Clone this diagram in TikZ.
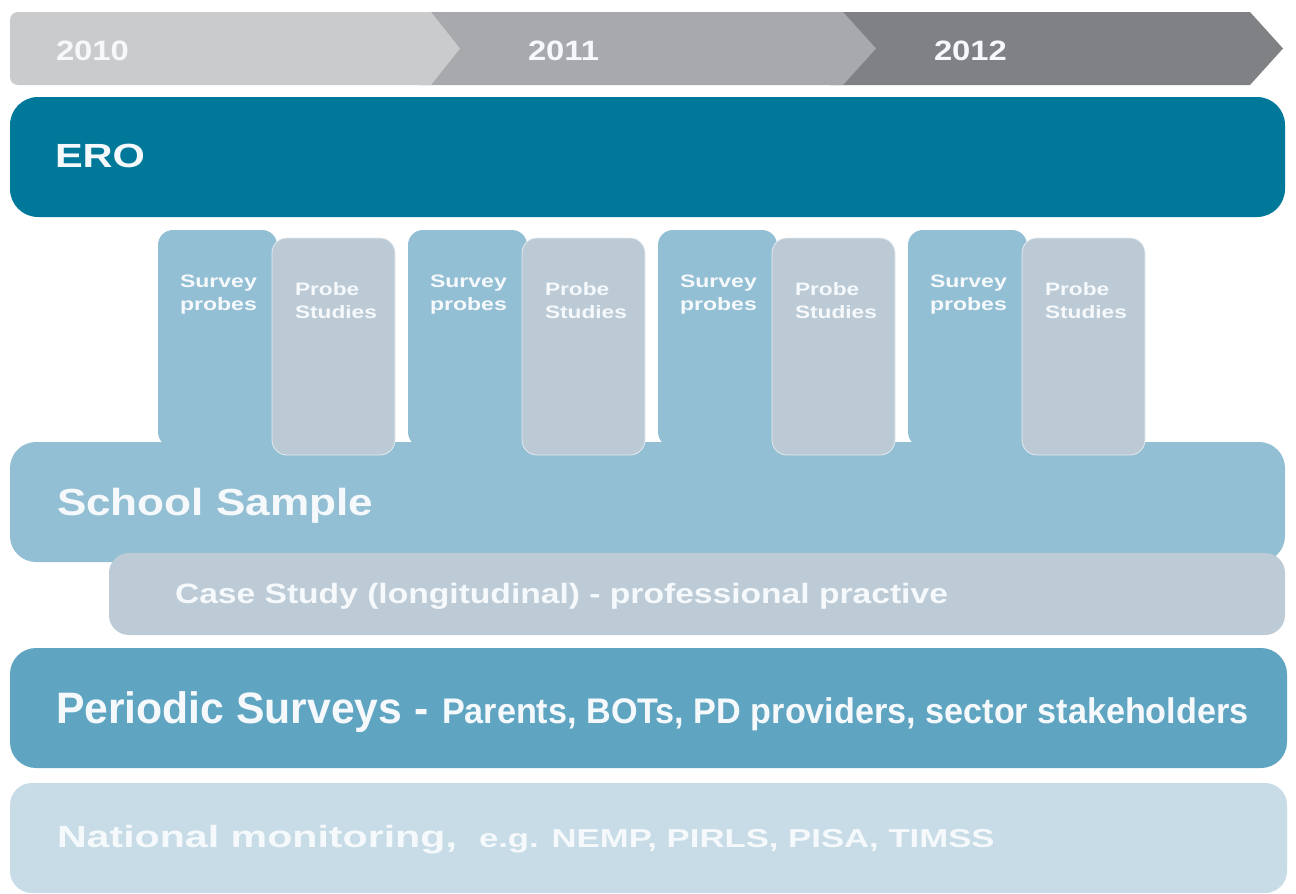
\documentclass[tikz,border=0pt]{standalone}
\usepackage{fontspec}
\setmainfont{Liberation Sans}
\newcommand\mylbl[3]{\scalebox{#1}[1]{\fontsize{#2}{#2}\selectfont\bfseries #3}}
\definecolor{yrA}{HTML}{C9CBCD}
\definecolor{yrB}{HTML}{A8A9AD}
\definecolor{yrC}{HTML}{808185}
\definecolor{eroC}{HTML}{00789A}
\definecolor{survC}{HTML}{93BFD4}
\definecolor{probC}{HTML}{BCCAD5}
\definecolor{caseC}{HTML}{BCCBD6}
\definecolor{perC}{HTML}{5FA5C2}
\definecolor{natC}{HTML}{C7DCE6}
\definecolor{txtC}{HTML}{F6F9FB}
\begin{document}
\begin{tikzpicture}[x=1pt,y=-1pt,
  bar/.style={rectangle, rounded corners=#1, inner sep=0pt, outer sep=0pt, anchor=north west},
  bar/.default=26pt,
  lbl/.style={anchor=base west, inner sep=0pt, outer sep=0pt, text=txtC}]
\useasboundingbox (0,0) rectangle (1296,894);
\fill[white] (0,0) rectangle (1296,894);
% timeline
\fill[yrC] (830,12) -- (1250,12) -- (1283,48.5) -- (1250,85) -- (830,85) -- cycle;
\fill[yrB] (420,12) -- (843,12) -- (876,48.5) -- (843,85) -- (420,85) -- cycle;
\fill[yrA, rounded corners=8pt] (10,12) rectangle (431,85);
\fill[yrA] (420,12) -- (431,12) -- (460,48.5) -- (431,85) -- (420,85) -- cycle;
\node[lbl] (y2010) at (56,60) {\mylbl{1.17}{28}{2010}};
\node[lbl] (y2011) at (528,60) {\mylbl{1.17}{28}{2011}};
\node[lbl] (y2012) at (934,60) {\mylbl{1.17}{28}{2012}};
% ERO
\node[bar=28pt, fill=eroC, minimum width=1275pt, minimum height=120pt] (ero) at (10,97) {};
\node[lbl] (eroT) at (55,167) {\mylbl{1.24}{33.5}{ERO}};
% School sample
\node[bar=26pt, fill=survC, minimum width=1275pt, minimum height=120pt] (school) at (10,442) {};
% survey / probe columns
\foreach \i in {0,1,2,3}{
  \pgfmathsetmacro\xs{158+250*\i}
  \pgfmathsetmacro\xp{272+250*\i}
  \node[bar=15pt, fill=survC, minimum width=119pt, minimum height=217pt] (surv\i) at (\xs,230) {};
  \node[bar=15pt, fill=probC, draw=white!60!probC, line width=0.8pt, minimum width=123pt, minimum height=217pt] (prob\i) at (\xp,238) {};
  \node[lbl] (survA\i) at (\xs+22,287) {\mylbl{1.28}{18}{Survey}};
  \node[lbl] (survB\i) at (\xs+22,310) {\mylbl{1.28}{18}{probes}};
  \node[lbl] (probA\i) at (\xp+23,295) {\mylbl{1.26}{18}{Probe}};
  \node[lbl] (probB\i) at (\xp+23,318) {\mylbl{1.26}{18}{Studies}};
}
\node[lbl] (schoolT) at (57,515) {\mylbl{1.17}{37.7}{School Sample}};
% Case study
\node[bar=20pt, fill=caseC, minimum width=1176pt, minimum height=82pt] (case) at (109,553) {};
\node[lbl] (caseT) at (175,603) {\mylbl{1.2}{28}{Case Study (longitudinal) - professional practive}};
% Periodic surveys
\node[bar=26pt, fill=perC, minimum width=1277pt, minimum height=120pt] (per) at (10,648) {};
\node[lbl] (perT) at (56,723) {\mylbl{0.97}{44}{Periodic Surveys -}};
\node[lbl] (perU) at (442,723) {\mylbl{0.96}{35.6}{Parents, BOTs, PD providers, sector stakeholders}};
% National monitoring
\node[bar=22pt, fill=natC, minimum width=1277pt, minimum height=110pt] (nat) at (10,783) {};
\node[lbl] (natT) at (57,847) {\mylbl{1.34}{30.7}{National monitoring,}};
\node[lbl] (natU) at (479,847) {\mylbl{1.34}{25.9}{e.g. NEMP, PIRLS, PISA, TIMSS}};
\end{tikzpicture}
\end{document}
